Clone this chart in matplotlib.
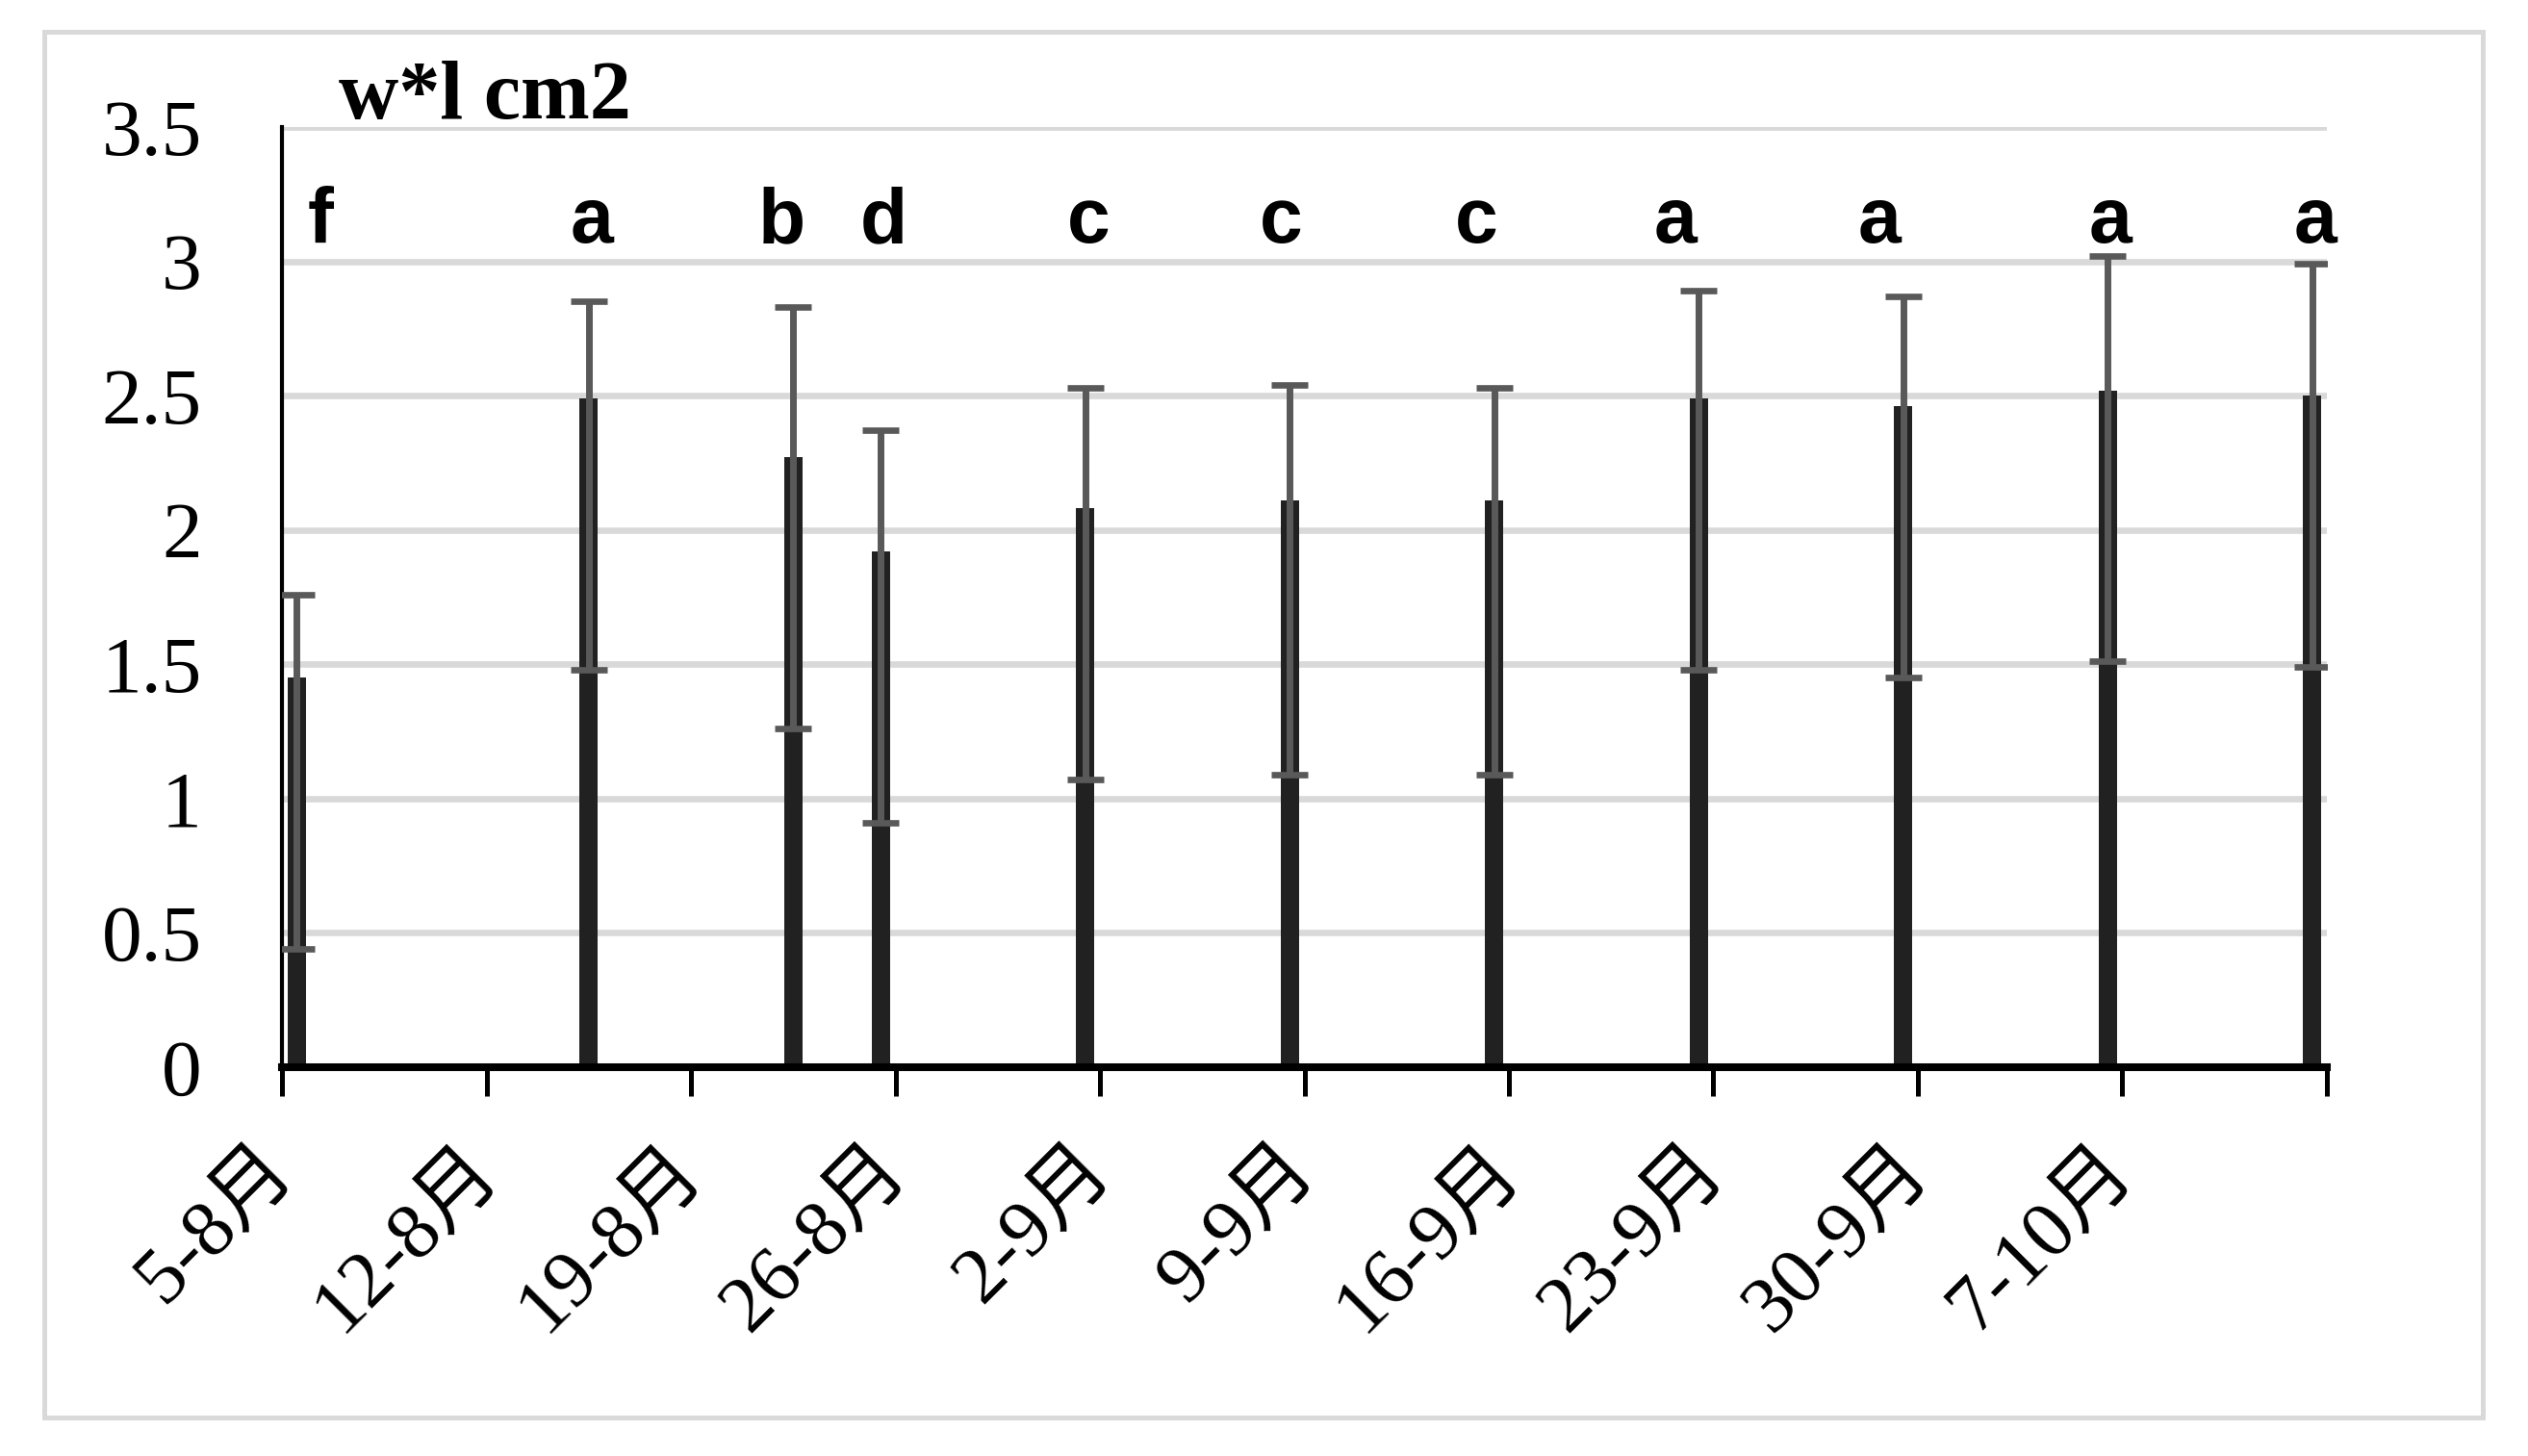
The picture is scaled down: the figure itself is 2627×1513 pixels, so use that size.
import matplotlib
matplotlib.use("Agg")
import matplotlib.pyplot as plt
import matplotlib.dates as mdates
import matplotlib.transforms as mtransforms
import pandas as pd
from matplotlib.patches import Rectangle

# sampling dates and leaf area (w*l, cm2) with error bar ends
sample_dates = ['2020-08-05', '2020-08-15', '2020-08-22', '2020-08-25', '2020-09-01',
                '2020-09-08', '2020-09-15', '2020-09-22', '2020-09-29', '2020-10-06',
                '2020-10-13']
leaf_area = [1.45, 2.49, 2.27, 1.92, 2.08, 2.11, 2.11, 2.49, 2.46, 2.52, 2.50]
err_top = [1.76, 2.85, 2.83, 2.37, 2.53, 2.54, 2.53, 2.89, 2.87, 3.02, 2.99]
err_bottom = [0.44, 1.48, 1.26, 0.91, 1.07, 1.09, 1.09, 1.48, 1.45, 1.51, 1.49]
letters = ['f', 'a', 'b', 'd', 'c', 'c', 'c', 'a', 'a', 'a', 'a']

tick_dates = pd.date_range('2020-08-05', '2020-10-14', freq='7D')
tick_labels = ['5-8月', '12-8月', '19-8月', '26-8月', '2-9月', '9-9月', '16-9月',
               '23-9月', '30-9月', '7-10月', '']
y_ticks = [0, 0.5, 1, 1.5, 2, 2.5, 3, 3.5]
y_labels = ['0', '0.5', '1', '1.5', '2', '2.5', '3', '3.5']

serif = ['Liberation Serif', 'Noto Sans CJK SC']

fig = plt.figure(figsize=(13.135, 7.565), dpi=200)
ax = fig.add_axes([0.1116, 0.267, 0.8088, 0.6458])

x = mdates.date2num(pd.to_datetime(sample_dates)) + 0.5
lo = [m - b for m, b in zip(leaf_area, err_bottom)]
hi = [t - m for m, t in zip(leaf_area, err_top)]

ax.bar(x, leaf_area, width=0.63, color='#212121', zorder=2)
ax.errorbar(x, leaf_area, yerr=[lo, hi], fmt='none', ecolor='#595959',
            elinewidth=2.5, capsize=6.8, capthick=2.4, zorder=3)

# significance letters, nudged like the hand placed text boxes
letter_shift = [0.8, 0.1, -0.4, 0.1, 0.1, -0.3, -0.6, -0.8, -0.8, 0.1, 0.1]
for xi, s, d in zip(x, letters, letter_shift):
    ax.text(xi + d, 3.07, s, ha='center', va='baseline', fontsize=29,
            fontweight='bold', family='Liberation Sans')

ax.set_xlim(mdates.date2num(tick_dates[0]), mdates.date2num(tick_dates[-1]))
ax.set_ylim(0, 3.5)
ax.set_xticks(mdates.date2num(tick_dates))
ax.set_xticklabels(tick_labels, rotation=45, ha='right', va='center',
                   rotation_mode='anchor', fontsize=30, family=serif)
shift = mtransforms.ScaledTranslation(0.09, 0, fig.dpi_scale_trans)
for lab in ax.get_xticklabels():
    lab.set_transform(lab.get_transform() + shift)
ax.set_yticks(y_ticks)
ax.set_yticklabels(y_labels, fontsize=30, family=serif)

ax.yaxis.grid(True, color='#d9d9d9', lw=2.4)
ax.set_axisbelow(True)
for side in ['top', 'right']:
    ax.spines[side].set_visible(False)
ax.spines['left'].set_linewidth(1.5)
ax.spines['bottom'].set_linewidth(2.9)
ax.tick_params(axis='y', length=0, pad=30)
ax.tick_params(axis='x', length=10.8, width=1.8, pad=23.5)

fig.text(0.134, 0.919, 'w*l cm2', fontsize=31, fontweight='bold',
         family='Liberation Serif')

fig.patches.append(Rectangle((0.0175, 0.0264), 0.9645, 0.9516, transform=fig.transFigure,
                             fill=False, ec='#d9d9d9', lw=1.8))

fig.savefig('out.png', dpi=200, facecolor='white')
